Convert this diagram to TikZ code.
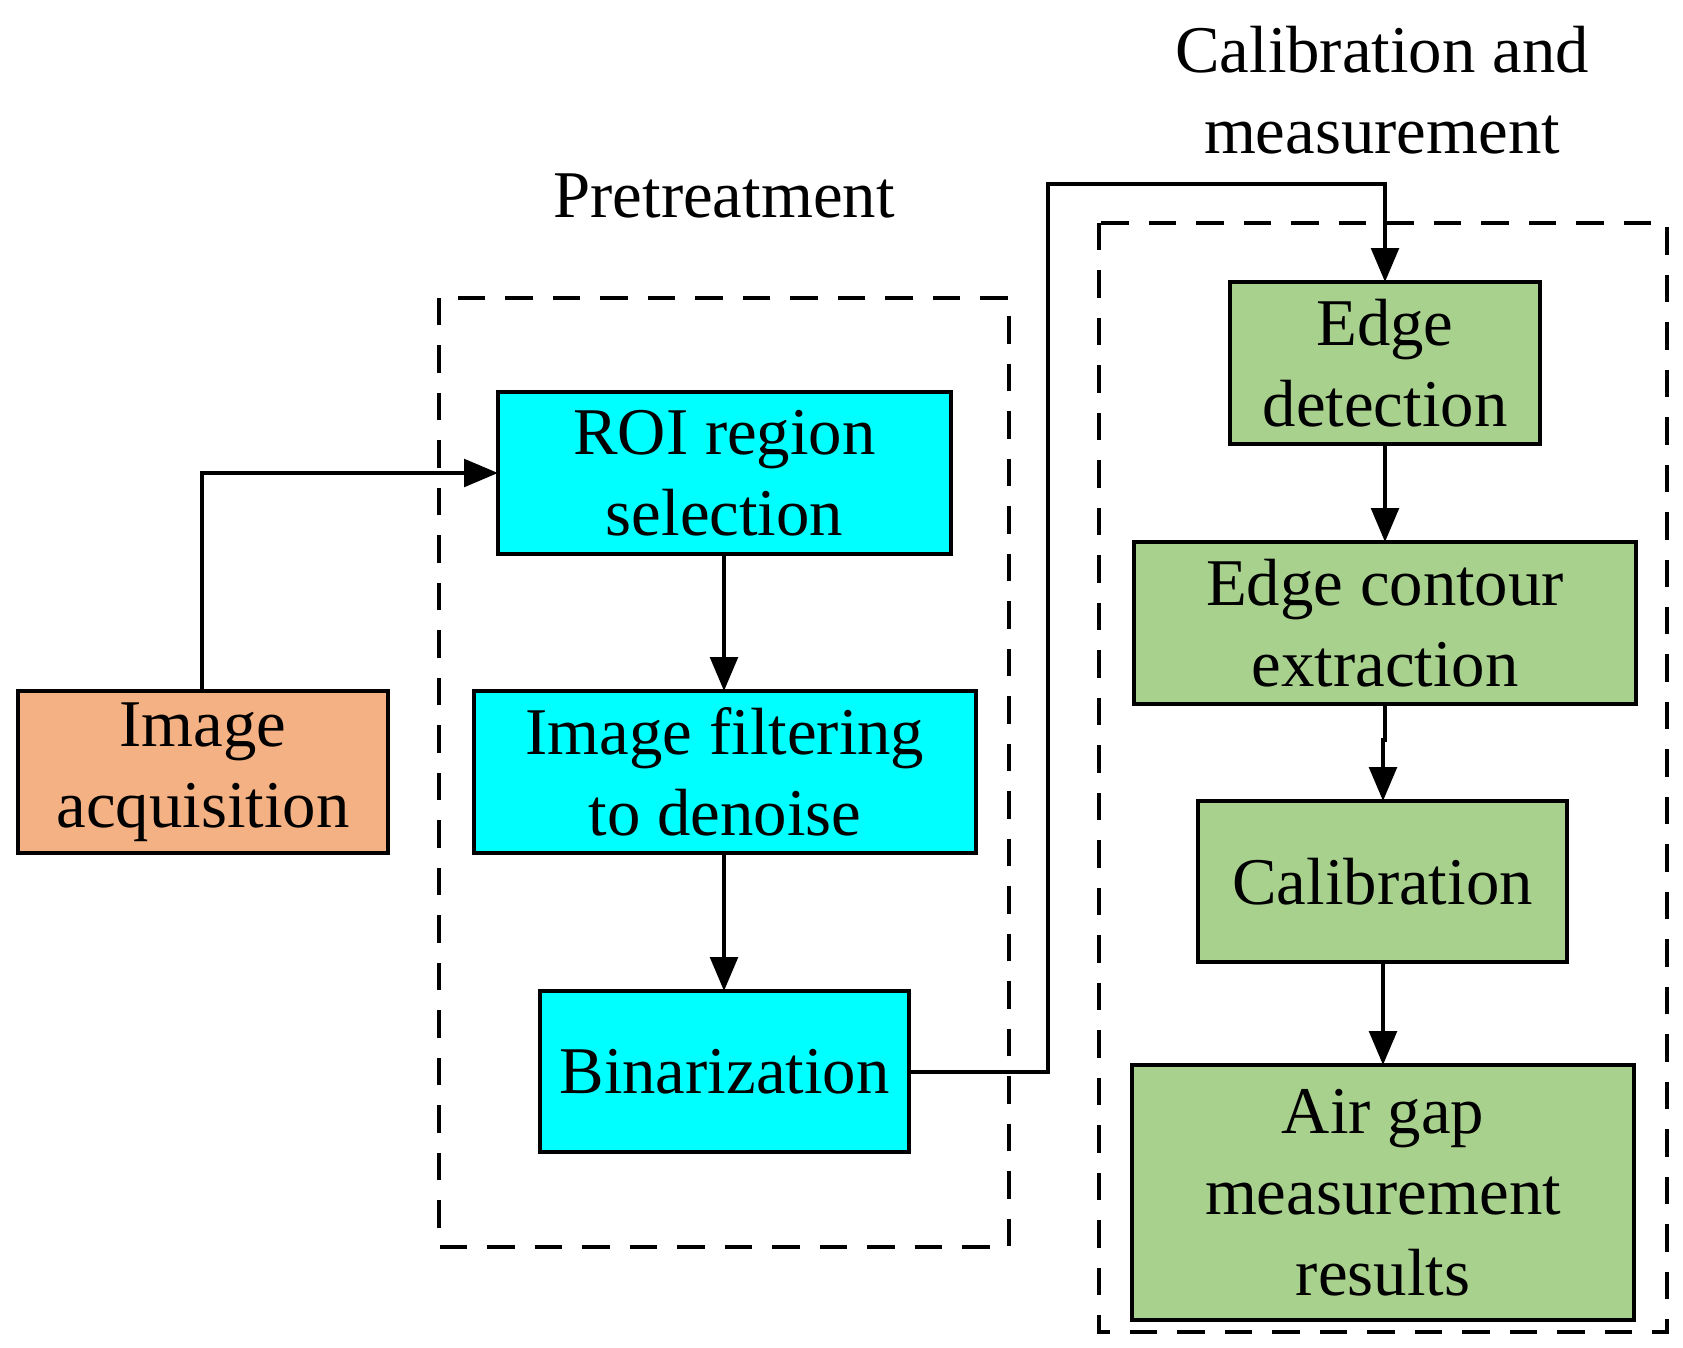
\documentclass[tikz,border=0pt]{standalone}
\usepackage{fontspec}
\setmainfont{Liberation Serif}
\usetikzlibrary{arrows.meta}
\begin{document}
\begin{tikzpicture}[x=0.02cm,y=-0.02cm,
 box/.style={draw,line width=2.6pt},
 lbl/.style={align=center,font=\fontsize{38}{46}\selectfont},
 arr/.style={line width=2.4pt,-{Triangle[length=0.68cm,width=0.55cm]}},
 grp/.style={line width=2.4pt,dash pattern=on 0.55cm off 0.4cm}]
\useasboundingbox (0,0) rectangle (1683,1348);
\definecolor{org}{HTML}{F4B183}
\definecolor{grn}{HTML}{A9D18E}
\definecolor{cyn}{HTML}{00FFFF}
\draw[grp] (439,298) rectangle (1009,1247);
\draw[grp] (1099,223) rectangle (1667,1332);
\node[lbl] (pt) at (724,196) {Pretreatment};
\node[lbl] (cm) at (1382,90) {Calibration and\\measurement};
\draw[box,fill=org] (18,691) rectangle (388,853);
\node[lbl] (ia) at (203,772) {Image\\acquisition};
\draw[box,fill=cyn] (498,392) rectangle (951,554);
\node[lbl] (roi) at (724.5,473) {ROI region\\selection};
\draw[box,fill=cyn] (474,691) rectangle (976,853);
\node[lbl] (flt) at (725,772) {Image filtering\\to denoise};
\draw[box,fill=cyn] (540,991) rectangle (909,1152);
\node[lbl] (bin) at (724.5,1071.5) {Binarization};
\draw[box,fill=grn] (1230,282) rectangle (1540,444);
\node[lbl] (ed) at (1385,363) {Edge\\detection};
\draw[box,fill=grn] (1134,542) rectangle (1636,704);
\node[lbl] (ec) at (1385,623) {Edge contour\\extraction};
\draw[box,fill=grn] (1198,801) rectangle (1567,962);
\node[lbl] (cal) at (1382.5,881.5) {Calibration};
\draw[box,fill=grn] (1132,1065) rectangle (1634,1320);
\node[lbl] (ag) at (1383,1192.5) {Air gap\\measurement\\results};
\coordinate (a1) at (202,691); \coordinate (a2) at (202,473); \coordinate (roiW) at (498,473);
\draw[arr] (a1) -- (a2) -- (roiW);
\coordinate (roiS) at (724,554); \coordinate (fltN) at (724,691);
\draw[arr] (roiS) -- (fltN);
\coordinate (fltS) at (724,853); \coordinate (binN) at (724,991);
\draw[arr] (fltS) -- (binN);
\coordinate (binE) at (909,1072); \coordinate (b1) at (1048,1072); \coordinate (b2) at (1048,184); \coordinate (b3) at (1385,184); \coordinate (edN) at (1385,282);
\draw[arr] (binE) -- (b1) -- (b2) -- (b3) -- (edN);
\coordinate (edS) at (1385,444); \coordinate (ecN) at (1385,542);
\draw[arr] (edS) -- (ecN);
\coordinate (ecS) at (1385,704); \coordinate (calN) at (1383,801);
\draw[arr] (ecS) -- (1385,740) -- (1383,740) -- (calN);
\coordinate (calS) at (1383,962); \coordinate (agN) at (1383,1065);
\draw[arr] (calS) -- (agN);
\end{tikzpicture}
\end{document}
